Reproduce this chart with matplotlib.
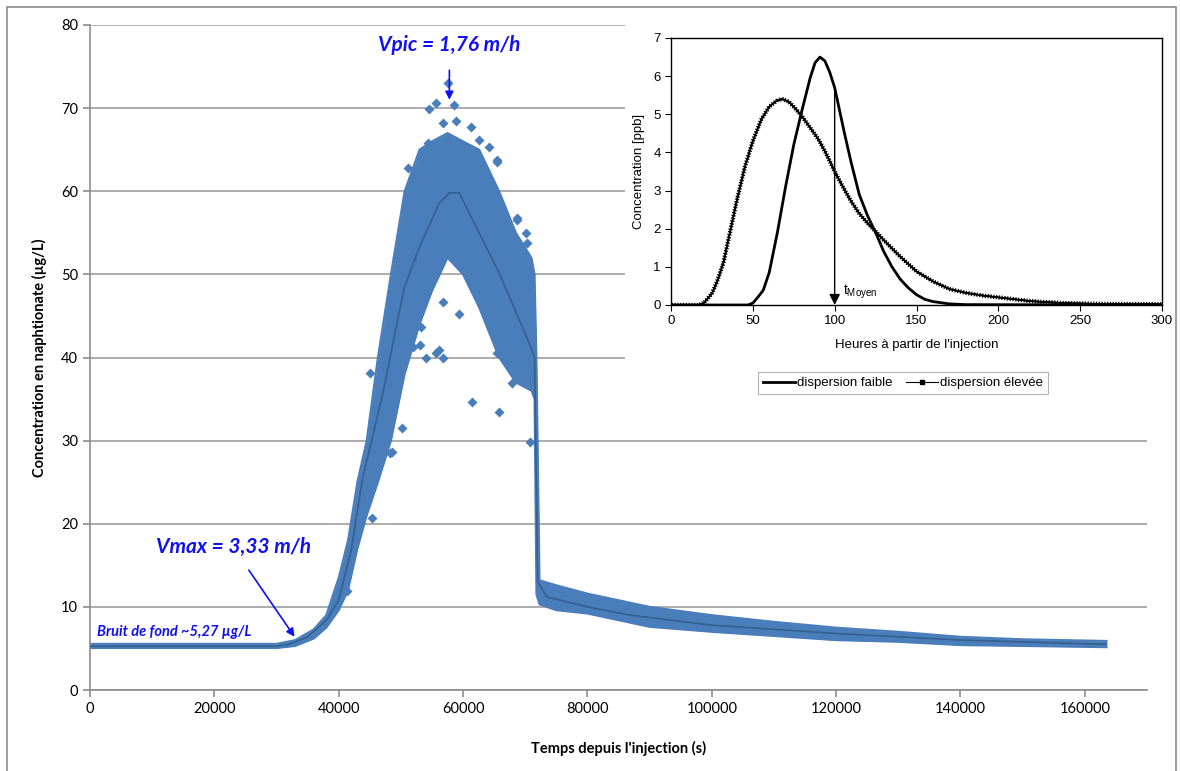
import matplotlib.pyplot as plt
import matplotlib.patheffects as pe
from matplotlib.lines import Line2D
from matplotlib.patches import Rectangle

# main chart: tracer concentration vs time
t_band = [0, 30000, 33000, 36000, 38000, 40000, 41500, 43000, 44500, 46300, 48400, 50600,
          53000, 55000, 57500, 60000, 62600, 65800, 68500, 71000, 71500, 71800, 72300,
          75000, 80000, 90000, 100000, 110000, 120000, 130000, 140000, 150000, 163500]
band_high = [5.55, 5.55, 6.0, 7.3, 9.0, 13.5, 18, 25, 30, 40, 50, 60,
             65, 66, 67, 66, 65, 60, 55, 52, 50, 40, 13.2,
             12.6, 11.6, 10.0, 9.0, 8.2, 7.5, 7.0, 6.4, 6.1, 5.9]
band_low = [5.05, 5.05, 5.3, 6.2, 7.5, 9.6, 12, 17, 21, 25, 30, 38,
            44, 48, 52, 50, 46, 40, 37, 36, 35, 11.5, 10.3,
            9.6, 9.2, 7.6, 7.0, 6.5, 6.0, 5.8, 5.4, 5.3, 5.15]

t_mean = [0, 30000, 32000, 35000, 38000, 40000, 42000, 43800, 47100, 49800, 50600, 53000,
          56200, 57800, 59400, 61500, 65800, 71100, 71500, 72000, 73500, 80000, 86900,
          100000, 120000, 140000, 163500]
c_mean = [5.27, 5.27, 5.5, 6.4, 8.4, 10.8, 16.8, 25.3, 35.7, 45.7, 48.5, 53.3,
          58.6, 59.8, 59.8, 56.6, 50.2, 40.9, 40.0, 13.0, 11.2, 10.0, 9.0,
          7.8, 6.8, 6.0, 5.5]

t_out = [57500, 55700, 54500, 58500, 61300, 64100, 65500, 51100, 68600, 70300, 59400,
         61500, 65800, 55700, 54000, 56700, 50100, 48200, 51900, 53300, 56700, 70700,
         67900, 45300, 41400, 49800, 49300, 51100, 52500, 54300, 56700, 58900, 62600,
         65500, 68600, 70200, 67900, 65400, 56200, 53000, 45000, 48500, 47700]
c_out = [73.0, 70.6, 69.9, 70.4, 67.7, 65.3, 63.5, 62.8, 56.8, 53.8, 45.2,
         34.7, 33.4, 40.5, 40.0, 40.0, 31.5, 28.5, 41.3, 43.7, 46.7, 29.8,
         36.9, 20.7, 11.9, 52.7, 52.1, 59.0, 61.4, 65.8, 68.2, 68.4, 66.2,
         63.8, 56.6, 55.0, 41.8, 40.6, 40.9, 41.5, 38.1, 28.6, 30.4]

# inset: theoretical breakthrough curves
h_faible = [0, 47, 50, 53, 56.4, 60, 65, 70, 75, 80, 85, 88, 91, 94, 97, 100, 103, 106,
            110, 115, 120, 125, 130, 135, 140, 145, 150, 155, 160, 170, 180, 300]
c_faible = [0, 0, 0.05, 0.2, 0.39, 0.85, 1.9, 3.1, 4.2, 5.1, 5.95, 6.35, 6.5, 6.4, 6.1,
            5.7, 5.1, 4.5, 3.75, 2.9, 2.35, 1.9, 1.4, 1.0, 0.68, 0.45, 0.27, 0.15, 0.09,
            0.03, 0.01, 0.0]
h_elevee = [0, 17, 20, 25, 28, 32, 36, 40, 45, 50, 55, 60, 65, 68, 72, 76, 80, 85, 90, 95,
            100, 105, 110, 115, 120, 125, 130, 140, 150, 160, 170, 180, 190, 200, 220,
            240, 260, 300]
c_elevee = [0, 0, 0.05, 0.3, 0.6, 1.1, 1.9, 2.7, 3.6, 4.3, 4.85, 5.2, 5.37, 5.4, 5.33,
            5.15, 4.95, 4.65, 4.35, 3.95, 3.5, 3.1, 2.72, 2.4, 2.15, 1.93, 1.7, 1.27, 0.88,
            0.62, 0.42, 0.32, 0.25, 0.2, 0.1, 0.05, 0.03, 0.02]
t_moyen = 100
t_moyen_top = 5.7

W, H = 1180, 771
blue = '#4A7EBB'
line_blue = '#35608F'
note_blue = '#1010F5'
grid_grey = '#A6A6A6'

fig = plt.figure(figsize=(W / 100, H / 100), dpi=100)
fig.patch.set_facecolor('white')


def fbox(x0, y0, x1, y1):
    # pixel box (top-left origin) -> figure rect
    return [x0 / W, 1 - y1 / H, (x1 - x0) / W, (y1 - y0) / H]


# outer frame of the picture
fig.add_artist(Rectangle((7 / W, -0.01), (1176 - 7) / W, 1 - 7 / H + 0.01,
                         transform=fig.transFigure, fill=False,
                         edgecolor='#8C8C8C', lw=1.2, zorder=0))

ax = fig.add_axes(fbox(90, 25, 1147, 690))
ax.fill_between(t_band, band_low, band_high, color=blue, lw=0, zorder=2)
ax.plot(t_band, band_high, color=blue, lw=1.5, zorder=2)
ax.plot(t_band, band_low, color=blue, lw=1.5, zorder=2)
ax.scatter(t_out, c_out, marker='D', s=26, color=blue, lw=0, zorder=3)
ax.plot(t_mean, c_mean, color=line_blue, lw=1.2, zorder=4)

ax.set_xlim(0, 170000)
ax.set_ylim(0, 80)
ax.set_xticks(range(0, 160001, 20000))
ax.set_yticks(range(0, 81, 10))
ax.grid(axis='y', color=grid_grey, lw=1.3, zorder=0)
ax.set_axisbelow(True)
for s in ['top', 'right']:
    ax.spines[s].set_visible(False)
for s in ['left', 'bottom']:
    ax.spines[s].set_color('#8C8C8C')
    ax.spines[s].set_linewidth(1.2)
ax.tick_params(colors='#8C8C8C', length=5, width=1.2, labelcolor='black',
               labelsize=10.5)
for lab in ax.get_xticklabels() + ax.get_yticklabels():
    lab.set_family('Lato')
ax.set_xlabel("Temps depuis l'injection (s)", fontsize=10.5, fontweight='bold',
              family='Lato', labelpad=18)
ax.set_ylabel('Concentration en naphtionate (µg/L)', fontsize=10.5, fontweight='bold',
              family='Lato', labelpad=10)

ax.annotate('Vpic = 1,76 m/h', xy=(57800, 71.0), xytext=(57800, 77.6),
            ha='center', va='center', color=note_blue, fontsize=15,
            fontweight='bold', style='italic', family='Lato',
            arrowprops=dict(arrowstyle='-|>', color=note_blue, lw=1.2,
                            mutation_scale=12, shrinkA=9, shrinkB=0))
ax.annotate('Vmax = 3,33 m/h', xy=(32900, 6.4), xytext=(23000, 17.2),
            ha='center', va='center', color=note_blue, fontsize=15,
            fontweight='bold', style='italic', family='Lato',
            arrowprops=dict(arrowstyle='-|>', color=note_blue, lw=1.2,
                            mutation_scale=12, shrinkA=9, shrinkB=0))
ax.text(1200, 7.0, 'Bruit de fond ~5,27 µg/L', color=note_blue, fontsize=10.5,
        fontweight='bold', style='italic', family='Lato', ha='left', va='center')

# white area holding the inset figure
fig.add_artist(Rectangle((625 / W, 1 - 405 / H), (1175 - 625) / W, (405 - 12) / H,
                         transform=fig.transFigure, facecolor='white',
                         edgecolor='none', zorder=1))

ins = fig.add_axes(fbox(671, 38, 1162, 305))
ins.set_zorder(3)
ins.plot(h_faible, c_faible, color='black', lw=2.0)
ticked = [pe.withTickedStroke(angle=90, spacing=2.0, length=0.55, linewidth=0.9),
          pe.withTickedStroke(angle=-90, spacing=2.0, length=0.55, linewidth=0.9),
          pe.Normal()]
ins.plot(h_elevee, c_elevee, color='black', lw=1.1, path_effects=ticked)
ins.annotate('', xy=(t_moyen, 0), xytext=(t_moyen, t_moyen_top),
             arrowprops=dict(arrowstyle='-|>', color='black', lw=1.0,
                             mutation_scale=16, shrinkA=0, shrinkB=0))
ins.text(t_moyen + 5, 0.1, r'$\mathregular{t_{Moyen}}$', fontsize=10,
         family='Liberation Sans', va='bottom', ha='left')
ins.set_xlim(0, 300)
ins.set_ylim(0, 7)
ins.set_xticks(range(0, 301, 50))
ins.set_yticks(range(0, 8))
for s in ins.spines.values():
    s.set_linewidth(1.0)
ins.tick_params(direction='out', length=4, labelsize=9.5)
for lab in ins.get_xticklabels() + ins.get_yticklabels():
    lab.set_family('Liberation Sans')
ins.set_xlabel("Heures à partir de l'injection", fontsize=9.5, family='Liberation Sans',
               labelpad=8)
ins.set_ylabel('Concentration [ppb]', fontsize=9.5, family='Liberation Sans', labelpad=6)

handles = [Line2D([], [], color='black', lw=2.0),
           Line2D([], [], color='black', lw=0.8, marker='s', markersize=2.5)]
leg = ins.legend(handles, ['dispersion faible', 'dispersion élevée'],
                 loc='center', bbox_to_anchor=(903 / W, 1 - 383 / H),
                 bbox_transform=fig.transFigure, ncol=2, frameon=True,
                 prop={'family': 'Liberation Sans', 'size': 9.5},
                 handlelength=2.4, handletextpad=0.2, columnspacing=1.0,
                 borderpad=0.35, fancybox=False)
leg.get_frame().set_edgecolor('#A0A0A0')
leg.get_frame().set_linewidth(0.8)

fig.savefig('out.png', dpi=100)
